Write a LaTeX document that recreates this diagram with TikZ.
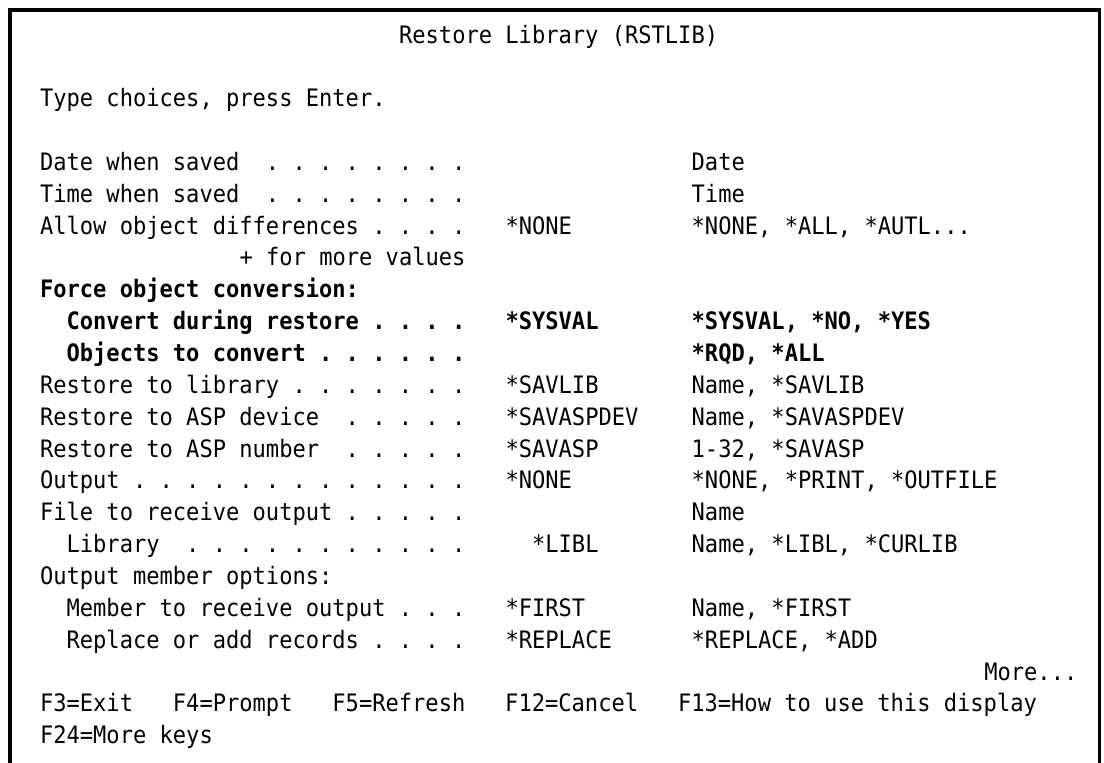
\documentclass[tikz,border=0pt]{standalone}
\usepackage{fontspec}
\newfontfamily\termfont[FakeStretch=0.92]{DejaVu Sans Mono}
\frenchspacing
% screen grid: 80 columns, one text row every 31.85 units
\newcommand\colx[1]{(13.4+13.3*#1)}
\newcommand\rowy[1]{(43+31.85*#1)}
\tikzset{
  cell/.style={anchor=base west, inner sep=0pt, outer sep=0pt, text=black,
    font=\termfont\fontsize{12pt}{14pt}\selectfont},
  cellb/.style={cell, font=\termfont\bfseries\fontsize{12pt}{14pt}\selectfont},
  rule/.style={draw=black, line cap=rect}
}
\begin{document}
\begin{tikzpicture}[x=0.5pt,y=-0.5pt]
\useasboundingbox (0,0) rectangle (1104,762);
\fill[white] (0,0) rectangle (1104,762);

% window frame, open at the bottom
\coordinate (tl) at (10.3,10);
\coordinate (tr) at (1099.7,10);
\coordinate (bl) at (10.3,762);
\coordinate (br) at (1099.7,762);
\draw[rule, line width=1.65pt] (tl) -- (tr);
\draw[rule, line width=2pt] (tl) -- (bl);
\draw[rule, line width=1.25pt] (tr) -- (br);

% title and instructions
\node[cell] (title) at ({\colx{29}},{\rowy{0}}) {Restore Library (RSTLIB)};
\node[cell] (hint) at ({\colx{2}},{\rowy{2}}) {Type choices, press Enter.};

% prompts
\node[cell] (p1) at ({\colx{2}},{\rowy{4}}) {Date when saved~ . . . . . . . .};
\node[cell] (p2) at ({\colx{2}},{\rowy{5}}) {Time when saved~ . . . . . . . .};
\node[cell] (p3) at ({\colx{2}},{\rowy{6}}) {Allow object differences . . . .};
\node[cell] (p3m) at ({\colx{17}},{\rowy{7}}) {+ for more values};
\node[cellb] (p4) at ({\colx{2}},{\rowy{8}}) {Force object conversion:};
\node[cellb] (p4a) at ({\colx{4}},{\rowy{9}}) {Convert during restore . . . .};
\node[cellb] (p4b) at ({\colx{4}},{\rowy{10}}) {Objects to convert . . . . . .};
\node[cell] (p5) at ({\colx{2}},{\rowy{11}}) {Restore to library . . . . . . .};
\node[cell] (p6) at ({\colx{2}},{\rowy{12}}) {Restore to ASP device~ . . . . .};
\node[cell] (p7) at ({\colx{2}},{\rowy{13}}) {Restore to ASP number~ . . . . .};
\node[cell] (p8) at ({\colx{2}},{\rowy{14}}) {Output . . . . . . . . . . . . .};
\node[cell] (p9) at ({\colx{2}},{\rowy{15}}) {File to receive output . . . . .};
\node[cell] (p9a) at ({\colx{4}},{\rowy{16}}) {Library~ . . . . . . . . . . .};
\node[cell] (p10) at ({\colx{2}},{\rowy{17}}) {Output member options:};
\node[cell] (p10a) at ({\colx{4}},{\rowy{18}}) {Member to receive output . . .};
\node[cell] (p10b) at ({\colx{4}},{\rowy{19}}) {Replace or add records . . . .};

% current values
\node[cell] (v3) at ({\colx{37}},{\rowy{6}}) {*NONE};
\node[cellb] (v4a) at ({\colx{37}},{\rowy{9}}) {*SYSVAL};
\node[cell] (v5) at ({\colx{37}},{\rowy{11}}) {*SAVLIB};
\node[cell] (v6) at ({\colx{37}},{\rowy{12}}) {*SAVASPDEV};
\node[cell] (v7) at ({\colx{37}},{\rowy{13}}) {*SAVASP};
\node[cell] (v8) at ({\colx{37}},{\rowy{14}}) {*NONE};
\node[cell] (v9a) at ({\colx{39}},{\rowy{16}}) {*LIBL};
\node[cell] (v10a) at ({\colx{37}},{\rowy{18}}) {*FIRST};
\node[cell] (v10b) at ({\colx{37}},{\rowy{19}}) {*REPLACE};

% allowed choices
\node[cell] (c1) at ({\colx{51}},{\rowy{4}}) {Date};
\node[cell] (c2) at ({\colx{51}},{\rowy{5}}) {Time};
\node[cell] (c3) at ({\colx{51}},{\rowy{6}}) {*NONE, *ALL, *AUTL...};
\node[cellb] (c4a) at ({\colx{51}},{\rowy{9}}) {*SYSVAL, *NO, *YES};
\node[cellb] (c4b) at ({\colx{51}},{\rowy{10}}) {*RQD, *ALL};
\node[cell] (c5) at ({\colx{51}},{\rowy{11}}) {Name, *SAVLIB};
\node[cell] (c6) at ({\colx{51}},{\rowy{12}}) {Name, *SAVASPDEV};
\node[cell] (c7) at ({\colx{51}},{\rowy{13}}) {1-32, *SAVASP};
\node[cell] (c8) at ({\colx{51}},{\rowy{14}}) {*NONE, *PRINT, *OUTFILE};
\node[cell] (c9) at ({\colx{51}},{\rowy{15}}) {Name};
\node[cell] (c9a) at ({\colx{51}},{\rowy{16}}) {Name, *LIBL, *CURLIB};
\node[cell] (c10a) at ({\colx{51}},{\rowy{18}}) {Name, *FIRST};
\node[cell] (c10b) at ({\colx{51}},{\rowy{19}}) {*REPLACE, *ADD};

% footer
\node[cell] (more) at ({\colx{73}},{\rowy{20}}) {More...};
\node[cell] (keys1) at ({\colx{2}},{\rowy{21}}) {F3=Exit~~ F4=Prompt~~ F5=Refresh~~ F12=Cancel~~ F13=How to use this display};
\node[cell] (keys2) at ({\colx{2}},{\rowy{22}}) {F24=More keys};
\end{tikzpicture}
\end{document}
